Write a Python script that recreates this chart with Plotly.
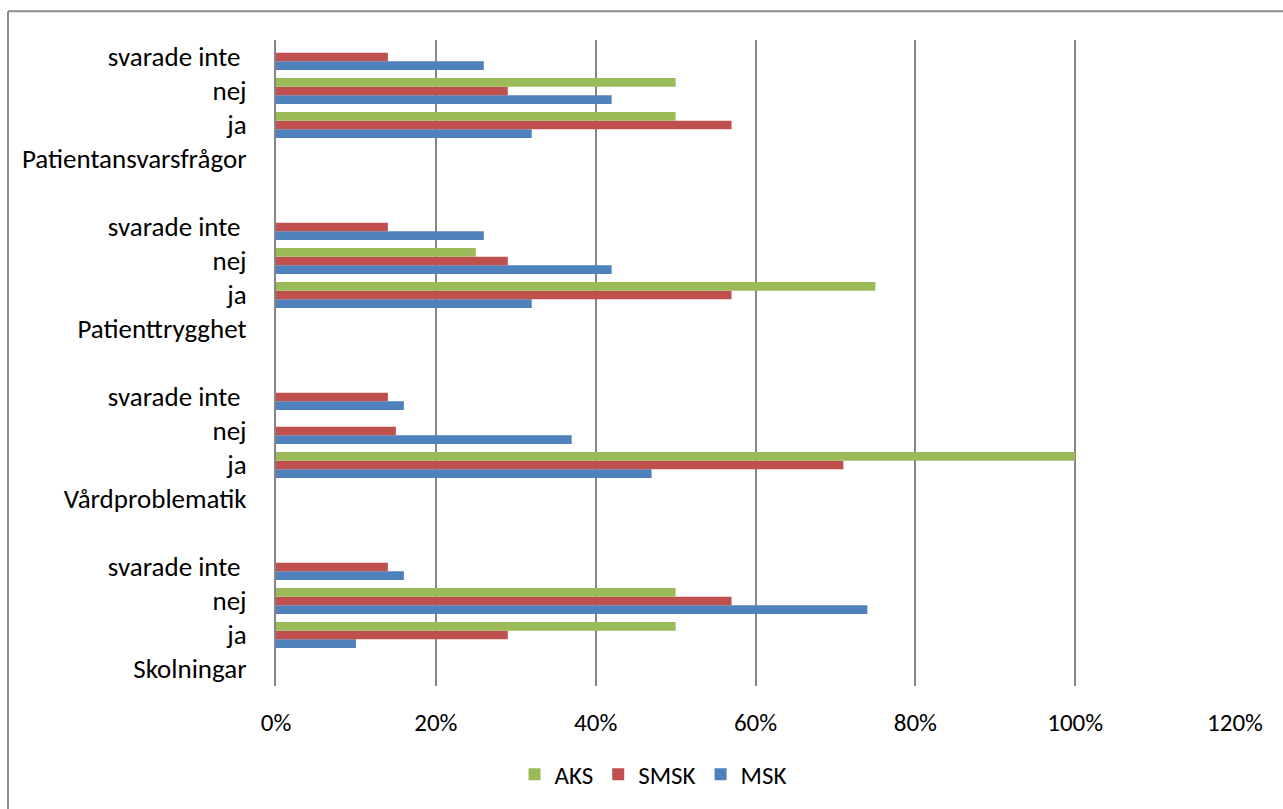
import plotly.graph_objects as go

categories = ["Skolningar", "ja", "nej", "svarade inte ", "",
              "Vårdproblematik", "ja", "nej", "svarade inte ", "",
              "Patienttrygghet", "ja", "nej", "svarade inte ", "",
              "Patientansvarsfrågor", "ja", "nej", "svarade inte "]

aks = [None, 0.50, 0.50, None, None,
       None, 1.00, None, None, None,
       None, 0.75, 0.25, None, None,
       None, 0.50, 0.50, None]
smsk = [None, 0.29, 0.57, 0.14, None,
        None, 0.71, 0.15, 0.14, None,
        None, 0.57, 0.29, 0.14, None,
        None, 0.57, 0.29, 0.14]
msk = [None, 0.10, 0.74, 0.16, None,
       None, 0.47, 0.37, 0.16, None,
       None, 0.32, 0.42, 0.26, None,
       None, 0.32, 0.42, 0.26]

series = [("MSK", msk, "#4F81BD"), ("SMSK", smsk, "#C0504D"), ("AKS", aks, "#9BBB59")]

pos = list(range(len(categories)))
FONT = "Carlito, Calibri, Lato, sans-serif"

fig = go.Figure()
for name, vals, col in series:
    fig.add_trace(go.Bar(y=pos, x=vals, name=name, orientation="h",
                         marker=dict(color=col, line=dict(width=0))))

W, H = 1283, 809
L, R, T, B = 276, 48, 40, 119
pw, ph = W - L - R, H - T - B

fig.update_layout(
    width=W, height=H,
    margin=dict(l=L, r=R, t=T, b=B),
    barmode="group", bargap=0.24, bargroupgap=0,
    plot_bgcolor="white", paper_bgcolor="white",
    font=dict(family=FONT, size=25, color="black"),
    legend=dict(orientation="h", traceorder="reversed",
                x=(653 - L) / pw, xanchor="center",
                y=-(779 - (T + ph)) / ph, yanchor="middle",
                font=dict(size=25), itemwidth=30),
    xaxis=dict(range=[0, 1.2], dtick=0.2, tickformat=".0%",
               tickfont=dict(size=25),
               showgrid=True, gridcolor="#868686", gridwidth=2,
               zeroline=False, showline=False,
               ticks="outside", ticklen=14, tickcolor="rgba(0,0,0,0)"),
    yaxis=dict(range=[-0.5, len(categories) - 0.5],
               tickmode="array", tickvals=pos, ticktext=categories,
               tickfont=dict(size=27),
               showgrid=False, zeroline=False,
               showline=True, linecolor="#868686", linewidth=2,
               ticks="outside", ticklen=22, tickcolor="rgba(0,0,0,0)"),
    shapes=[
        dict(type="line", xref="paper", yref="paper",
             x0=(8 - L) / pw, x1=(W + 10 - L) / pw,
             y0=1 + (T - 11) / ph, y1=1 + (T - 11) / ph,
             line=dict(color="#8c8c8c", width=2)),
        dict(type="line", xref="paper", yref="paper",
             x0=(8 - L) / pw, x1=(8 - L) / pw,
             y0=1 + (T - 11) / ph, y1=-(H + 10 - T - ph) / ph,
             line=dict(color="#8c8c8c", width=2)),
    ],
)

fig.write_html("out.html")
